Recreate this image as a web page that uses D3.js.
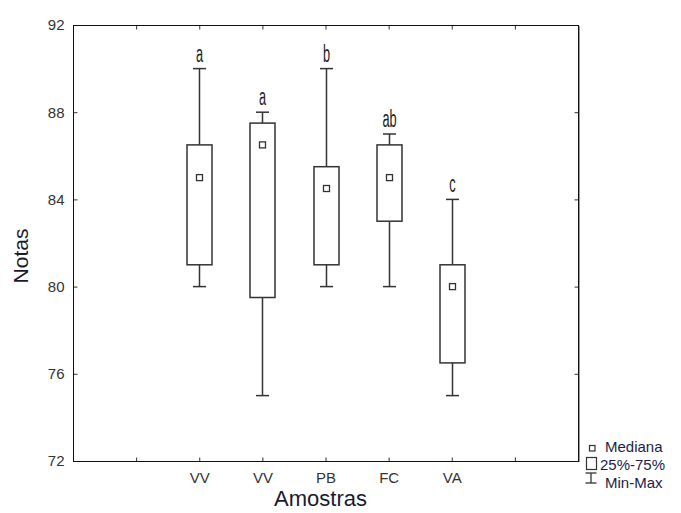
<!DOCTYPE html>
<html>
<head>
<meta charset="utf-8">
<script src="https://cdn.jsdelivr.net/npm/d3@7"></script>
<style>
  body { margin: 0; background: #fff; }
  svg { display: block; font-family: "Liberation Sans", Arial, sans-serif; }
</style>
</head>
<body>
<svg id="chart" width="681" height="513"></svg>
<script>
// ---- data ----
const categories = ["VV", "VV", "PB", "FC", "VA"];
const minValues    = [80, 75, 80, 80, 75];
const q1Values     = [81, 79.5, 81, 83, 76.5];
const medianValues = [85, 86.5, 84.5, 85, 80];
const q3Values     = [86.5, 87.5, 85.5, 86.5, 81];
const maxValues    = [90, 88, 90, 87, 84];
const groupLetters = ["a", "a", "b", "ab", "c"];
const yTicks = [72, 76, 80, 84, 88, 92];
const xTickSlots = [1, 2, 3, 4, 5, 6, 7];

const svg = d3.select("#chart");
const L = 73, R = 578, T = 25, B = 461;

const x = d3.scaleLinear().domain([0, 8]).range([L, R]);
const y = d3.scaleLinear().domain([72, 92]).range([B, T]);
const pos = i => i + 2;

const ink = "#333";

// axes
const yAxis = d3.axisLeft(y).tickValues(yTicks).tickSize(-4).tickPadding(9).tickFormat(d3.format("d"));
const xAxis = d3.axisBottom(x).tickValues(xTickSlots).tickSize(-4).tickPadding(11)
  .tickFormat(d => (d >= 2 && d <= 6) ? categories[d - 2] : "");

svg.append("g").attr("transform", `translate(${L + 0.5},0)`).call(yAxis);
svg.append("g").attr("transform", `translate(0,${B + 0.5})`).call(xAxis);
svg.append("g").attr("transform", `translate(0,${T + 0.5})`)
  .call(d3.axisTop(x).tickValues(xTickSlots).tickSize(-4).tickFormat(""));
svg.append("g").attr("transform", `translate(${R + 0.5},0)`)
  .call(d3.axisRight(y).tickValues(yTicks).tickSize(-4).tickFormat(""));

svg.selectAll(".domain").remove();
svg.selectAll(".tick line").attr("stroke", ink).attr("stroke-width", 1);
svg.selectAll(".tick text").attr("fill", "#333").style("font-size", "15px")
  .style("font-family", "'Liberation Sans', Arial, sans-serif");

// frame
svg.append("rect").attr("x", L + 0.5).attr("y", T + 0.5).attr("width", R - L).attr("height", B - T)
  .attr("fill", "none").attr("stroke", "#111").attr("stroke-width", 1);
svg.append("line").attr("x1", R + 1.5).attr("x2", R + 1.5).attr("y1", T + 1).attr("y2", B + 1)
  .attr("stroke", "#999").attr("stroke-width", 1);

// boxes
const boxW = 25, capW = 13, medS = 6;
const g = svg.append("g");
categories.forEach((c, i) => {
  const cx = Math.round(x(pos(i))) + 0.5;
  g.append("line").attr("x1", cx).attr("x2", cx).attr("y1", y(maxValues[i])).attr("y2", y(q3Values[i]))
    .attr("stroke", ink).attr("stroke-width", 1.5);
  g.append("line").attr("x1", cx).attr("x2", cx).attr("y1", y(q1Values[i])).attr("y2", y(minValues[i]))
    .attr("stroke", ink).attr("stroke-width", 1.5);
  g.append("line").attr("x1", cx - capW / 2).attr("x2", cx + capW / 2).attr("y1", y(maxValues[i])).attr("y2", y(maxValues[i]))
    .attr("stroke", ink).attr("stroke-width", 1.5);
  g.append("line").attr("x1", cx - capW / 2).attr("x2", cx + capW / 2).attr("y1", y(minValues[i])).attr("y2", y(minValues[i]))
    .attr("stroke", ink).attr("stroke-width", 1.5);
  g.append("rect").attr("x", cx - boxW / 2).attr("y", y(q3Values[i]))
    .attr("width", boxW).attr("height", y(q1Values[i]) - y(q3Values[i]))
    .attr("fill", "#fff").attr("stroke", ink).attr("stroke-width", 1.5);
  g.append("rect").attr("x", cx - medS / 2).attr("y", y(medianValues[i]) - medS / 2)
    .attr("width", medS).attr("height", medS)
    .attr("fill", "#fff").attr("stroke", ink).attr("stroke-width", 1.3);
  g.append("text").attr("transform", `translate(${cx},${y(maxValues[i]) - 7}) scale(0.75,1.45)`)
    .attr("text-anchor", "middle").attr("fill", "#222")
    .style("font-size", "17px").style("font-family", "'Liberation Sans', Arial, sans-serif")
    .text(groupLetters[i]);
});

// axis titles
svg.append("text").attr("x", (L + R) / 2 - 5).attr("y", 506).attr("text-anchor", "middle")
  .attr("fill", "#1a1a2e").style("font-size", "22px").text("Amostras");
svg.append("text").attr("transform", `translate(28,${(T + B) / 2 + 13}) rotate(-90)`).attr("text-anchor", "middle")
  .attr("fill", "#1a1a2e").style("font-size", "21px").text("Notas");

// legend
const leg = svg.append("g");
const legColor = "#1c1c4a";
leg.append("rect").attr("x", 589.5).attr("y", 445.5).attr("width", 5.5).attr("height", 5.5)
  .attr("fill", "#fff").attr("stroke", ink).attr("stroke-width", 1.2);
leg.append("text").attr("x", 605).attr("y", 452).attr("fill", legColor).style("font-size", "15px").text("Mediana");
leg.append("rect").attr("x", 586.5).attr("y", 457.5).attr("width", 10).attr("height", 12)
  .attr("fill", "#fff").attr("stroke", ink).attr("stroke-width", 1.2);
leg.append("text").attr("x", 600).attr("y", 470).attr("fill", legColor).style("font-size", "15px").text("25%-75%");
leg.append("line").attr("x1", 591).attr("x2", 591).attr("y1", 473).attr("y2", 483).attr("stroke", ink).attr("stroke-width", 1.3);
leg.append("line").attr("x1", 585.5).attr("x2", 596.5).attr("y1", 473).attr("y2", 473).attr("stroke", ink).attr("stroke-width", 1.3);
leg.append("line").attr("x1", 585.5).attr("x2", 596.5).attr("y1", 483).attr("y2", 483).attr("stroke", ink).attr("stroke-width", 1.3);
leg.append("text").attr("x", 605).attr("y", 488).attr("fill", legColor).style("font-size", "15px").text("Min-Max");
</script>
</body>
</html>
